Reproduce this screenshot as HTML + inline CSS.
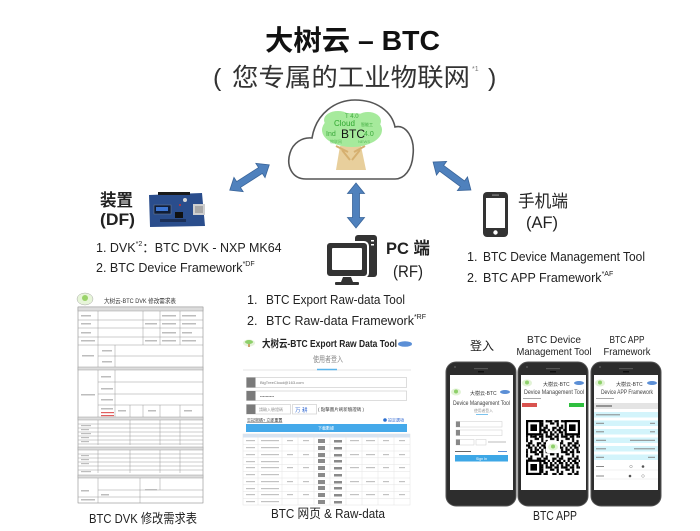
<!DOCTYPE html>
<html><head><meta charset="utf-8"><style>
html,body{margin:0;padding:0;background:#fff;}
svg{display:block;}
text{font-family:"Liberation Sans","Noto Sans CJK SC",sans-serif;}
</style></head><body>
<svg width="700" height="531" viewBox="0 0 700 531" xmlns="http://www.w3.org/2000/svg">
<defs>
<pattern id="qr" width="15.4" height="15.4" patternUnits="userSpaceOnUse">
<rect x="0" y="0" width="2.2" height="2.2" fill="#000"/><rect x="4.4" y="0" width="4.4" height="2.2" fill="#000"/><rect x="11" y="0" width="2.2" height="4.4" fill="#000"/>
<rect x="2.2" y="2.2" width="2.2" height="2.2" fill="#000"/><rect x="6.6" y="2.2" width="2.2" height="4.4" fill="#000"/><rect x="13.2" y="2.2" width="2.2" height="2.2" fill="#000"/>
<rect x="0" y="4.4" width="4.4" height="2.2" fill="#000"/><rect x="8.8" y="4.4" width="4.4" height="2.2" fill="#000"/>
<rect x="2.2" y="6.6" width="2.2" height="4.4" fill="#000"/><rect x="11" y="6.6" width="4.4" height="2.2" fill="#000"/><rect x="6.6" y="8.8" width="2.2" height="2.2" fill="#000"/>
<rect x="0" y="11" width="2.2" height="2.2" fill="#000"/><rect x="4.4" y="11" width="4.4" height="2.2" fill="#000"/><rect x="13.2" y="11" width="2.2" height="4.4" fill="#000"/>
<rect x="2.2" y="13.2" width="4.4" height="2.2" fill="#000"/><rect x="8.8" y="13.2" width="2.2" height="2.2" fill="#000"/>
</pattern>
</defs>
<rect width="700" height="531" fill="#fff"/>

<!-- Title -->
<text x="265" y="50" font-size="28" font-weight="bold" fill="#111" textLength="175" lengthAdjust="spacingAndGlyphs">大树云 – BTC</text>
<text x="213" y="86" font-size="25" fill="#333">(</text>
<text x="232" y="86" font-size="25" fill="#333" textLength="238" lengthAdjust="spacingAndGlyphs">您专属的工业物联网</text>
<text x="472" y="71" font-size="7" fill="#777">*1</text>
<text x="488" y="86" font-size="25" fill="#333">)</text>

<!-- Cloud -->
<path d="M306,179 C292,179 286,166 290,153 C293,143 302,137 312,138 C316,113 336,100 355,100 C377,100 392,112 395,127 C406,124 415,138 413,155 C412,170 404,179 395,179 Z" fill="#fff" stroke="#555" stroke-width="1.6"/>
<!-- tree -->
<path d="M340,146 L336,170 L366,170 L361,146 Z" fill="#e8cf9c"/>
<path d="M336,146 L348,152 M365,146 L354,152 M342,150 L350,160 M360,150 L352,160" stroke="#d6b070" stroke-width="2" fill="none"/>
<ellipse cx="352" cy="130" rx="30" ry="17" fill="#a6ea9c"/>
<ellipse cx="338" cy="120" rx="14" ry="9" fill="#a6ea9c"/>
<ellipse cx="368" cy="121" rx="13" ry="9" fill="#a6ea9c"/>
<text x="345" y="118" font-size="6" fill="#3aa83a">T 4.0</text>
<text x="334" y="126" font-size="8" fill="#2fa82f">Cloud</text>
<text x="361" y="126" font-size="4" fill="#3aa83a">智能工</text>
<text x="326" y="136" font-size="7" fill="#3aa83a">Ind</text>
<text x="364" y="136" font-size="7" fill="#3aa83a">4.0</text>
<text x="341" y="138" font-size="12" fill="#111">BTC</text>
<text x="330" y="143" font-size="4" fill="#5bbd5b">物联网</text>
<text x="358" y="143" font-size="4" fill="#5bbd5b">NEWS</text>

<!-- Arrows -->
<g transform="translate(249.5,177.5) rotate(-32.7)"><polygon points="-23.5,0 -13,-8.5 -13,-3.5 13,-3.5 13,-8.5 23.5,0 13,8.5 13,3.5 -13,3.5 -13,8.5" fill="#4f81bd" stroke="#3a659a" stroke-width="0.8"/></g>
<g transform="translate(356,205.5) rotate(90)"><polygon points="-22.5,0 -12,-8.5 -12,-3.5 12,-3.5 12,-8.5 22.5,0 12,8.5 12,3.5 -12,3.5 -12,8.5" fill="#4f81bd" stroke="#3a659a" stroke-width="0.8"/></g>
<g transform="translate(452,176) rotate(36.4)"><polygon points="-23.5,0 -13,-8.5 -13,-3.5 13,-3.5 13,-8.5 23.5,0 13,8.5 13,3.5 -13,3.5 -13,8.5" fill="#4f81bd" stroke="#3a659a" stroke-width="0.8"/></g>

<!-- Left: device -->
<text x="100" y="206" font-size="17" font-weight="bold" fill="#222" textLength="33" lengthAdjust="spacingAndGlyphs">装置</text>
<text x="100" y="225" font-size="17" font-weight="bold" fill="#222" textLength="35" lengthAdjust="spacingAndGlyphs">(DF)</text>
<!-- board -->
<g>
<polygon points="149,195 202,193 205,226 150,227" fill="#2a4d8c"/>
<rect x="158" y="192" width="32" height="3" fill="#1a1a1a"/>
<rect x="154" y="205" width="17" height="9" fill="#0f1d38" stroke="#6b7a90" stroke-width="0.6"/>
<rect x="156" y="207" width="12" height="4" fill="#3c74d0"/>
<rect x="193" y="204" width="12" height="11" fill="#cfcfcf"/>
<rect x="195" y="206" width="8" height="7" fill="#a8a8a8"/>
<circle cx="185" cy="200" r="2" fill="#d8d8d8"/>
<rect x="175" y="212" width="8" height="6" fill="#111"/>
<rect x="160" y="219" width="26" height="3" fill="#1b2f57"/>
<circle cx="180" cy="205" r="1" fill="#c33"/>
</g>
<text x="96" y="252" font-size="12.5" fill="#222">1. DVK<tspan font-size="7" dy="-6">*2</tspan><tspan dy="6">：BTC DVK - NXP MK64</tspan></text>
<text x="96" y="272" font-size="12.5" fill="#222">2. BTC Device Framework<tspan font-size="7" dy="-6">*DF</tspan></text>

<!-- PC -->
<rect x="355" y="235" width="22" height="42" rx="3" fill="#333"/>
<rect x="371" y="240" width="3" height="1.5" fill="#fff"/><rect x="371" y="244" width="3" height="1.5" fill="#fff"/>
<rect x="326" y="242" width="42" height="35" rx="4" fill="#333" stroke="#fff" stroke-width="2"/>
<rect x="332" y="248" width="30" height="22" rx="1" fill="#fff"/>
<polygon points="343,277 351,277 353,282 341,282" fill="#333"/>
<rect x="335" y="282" width="24" height="3" rx="1" fill="#333"/>
<text x="386" y="254" font-size="17" font-weight="bold" fill="#222" textLength="44" lengthAdjust="spacingAndGlyphs">PC 端</text>
<text x="393" y="277" font-size="17" fill="#222" textLength="30" lengthAdjust="spacingAndGlyphs">(RF)</text>
<text x="247" y="304" font-size="12.5" fill="#222">1.</text>
<text x="266" y="304" font-size="12.5" fill="#222" textLength="139" lengthAdjust="spacingAndGlyphs">BTC Export Raw-data Tool</text>
<text x="247" y="325" font-size="12.5" fill="#222">2.</text>
<text x="266" y="325" font-size="12.5" fill="#222">BTC Raw-data Framework<tspan font-size="7" dy="-6">*RF</tspan></text>

<!-- Phone (AF) -->
<rect x="483" y="192" width="25" height="45" rx="4" fill="#333"/>
<rect x="486" y="198" width="19" height="30" fill="#fff"/>
<rect x="492" y="194.5" width="7" height="1.2" fill="#888"/>
<circle cx="495.5" cy="232.5" r="2.2" fill="#fff"/>
<text x="518" y="207" font-size="17" fill="#222" textLength="50" lengthAdjust="spacingAndGlyphs">手机端</text>
<text x="526" y="228" font-size="17" fill="#222" textLength="32" lengthAdjust="spacingAndGlyphs">(AF)</text>
<text x="467" y="261" font-size="12.5" fill="#222">1.</text>
<text x="483" y="261" font-size="12.5" fill="#222" textLength="162" lengthAdjust="spacingAndGlyphs">BTC Device Management Tool</text>
<text x="467" y="282" font-size="12.5" fill="#222">2.</text>
<text x="483" y="282" font-size="12.5" fill="#222">BTC APP Framework<tspan font-size="7" dy="-6">*AF</tspan></text>

<!-- Form (bottom-left) -->
<g stroke="#9a9a9a" stroke-width="0.5" fill="none">
<ellipse cx="85" cy="299" rx="8" ry="6" fill="#e7f5d9" stroke="#aaa"/>
<rect x="78" y="307" width="125" height="196" fill="#fff" stroke="#777"/>
<rect x="78" y="307" width="125" height="4" fill="#dcdcdc"/>
<rect x="78" y="367" width="125" height="3" fill="#dcdcdc"/>
<rect x="78" y="417" width="125" height="3" fill="#dcdcdc"/>
<rect x="78" y="447" width="125" height="3" fill="#dcdcdc"/>
<rect x="78" y="475" width="125" height="3" fill="#dcdcdc"/>
<path d="M78,320H203M78,328H203M78,337H203M78,345H203M98,356H203M98,382H203M98,394H203M98,405H203M78,424H203M78,428H203M78,432H203M78,436H203M78,440H203M78,444H203M78,454H203M78,458H203M78,462H203M78,466H203M78,470H203M98,490H203M78,497H203"/>
<path d="M98,311V345M143,311V345M160,311V345M180,311V345M98,345V367M115,345V367M98,370V417M115,370V417M130,405V417M143,405V417M160,405V417M180,405V417M98,420V445M130,420V445M160,420V445M180,420V445M98,450V473M130,450V473M160,450V473M180,450V473M98,478V503M140,478V503M160,478V490"/>
</g>
<circle cx="85" cy="298" r="3" fill="#9ad36a"/>
<text x="104" y="303" font-size="6.5" fill="#333" font-family="Liberation Serif" textLength="72" lengthAdjust="spacingAndGlyphs">大树云-BTC DVK 修改需求表</text>
<g fill="#bdbdbd">
<rect x="81" y="315" width="10" height="1.5"/><rect x="81" y="323" width="10" height="1.5"/><rect x="81" y="332" width="10" height="1.5"/><rect x="81" y="340" width="14" height="1.5"/>
<rect x="145" y="323" width="12" height="1.5"/><rect x="145" y="340" width="12" height="1.5"/>
<rect x="162" y="315" width="14" height="1.5"/><rect x="162" y="323" width="14" height="1.5"/><rect x="162" y="332" width="14" height="1.5"/><rect x="162" y="340" width="14" height="1.5"/>
<rect x="182" y="315" width="14" height="1.5"/><rect x="182" y="323" width="14" height="1.5"/><rect x="182" y="332" width="10" height="1.5"/><rect x="182" y="340" width="14" height="1.5"/>
<rect x="82" y="355" width="12" height="1.5"/><rect x="102" y="350" width="10" height="1.5"/><rect x="102" y="361" width="10" height="1.5"/>
<rect x="81" y="394" width="14" height="1.5"/><rect x="101" y="376" width="10" height="1.5"/><rect x="101" y="388" width="12" height="1.5"/><rect x="101" y="399" width="12" height="1.5"/><rect x="101" y="408" width="12" height="1.5"/>
<rect x="118" y="410" width="8" height="1.5"/><rect x="148" y="410" width="8" height="1.5"/><rect x="184" y="410" width="8" height="1.5"/>
<rect x="81" y="425" width="10" height="1.2"/><rect x="81" y="429" width="8" height="1.2"/><rect x="81" y="433" width="10" height="1.2"/><rect x="81" y="437" width="8" height="1.2"/><rect x="81" y="441" width="8" height="1.2"/>
<rect x="81" y="455" width="8" height="1.2"/><rect x="81" y="459" width="8" height="1.2"/><rect x="81" y="463" width="8" height="1.2"/><rect x="81" y="471" width="10" height="1.2"/>
<rect x="81" y="490" width="8" height="1.5"/><rect x="81" y="499" width="14" height="1.5"/><rect x="145" y="489" width="12" height="1.5"/><rect x="101" y="494" width="8" height="1.5"/>
</g>
<rect x="101" y="412" width="13" height="1.2" fill="#e06060"/><rect x="101" y="415" width="13" height="1.2" fill="#e06060"/>
<text x="143" y="523" font-size="13" fill="#222" text-anchor="middle" textLength="108" lengthAdjust="spacingAndGlyphs">BTC DVK 修改需求表</text>

<!-- Web screenshot -->
<ellipse cx="249" cy="343" rx="6" ry="3.5" fill="#e5f2da"/><rect x="248" y="343" width="2" height="4" fill="#c9a36a"/><ellipse cx="249" cy="342" rx="4" ry="2" fill="#8ed06a"/>
<text x="262" y="347" font-size="10.5" font-weight="bold" fill="#222" textLength="135" lengthAdjust="spacingAndGlyphs">大树云-BTC Export Raw Data Tool</text>
<ellipse cx="405" cy="344" rx="7" ry="2.8" fill="#5b8fd6"/>
<text x="313" y="362" font-size="8" fill="#888" textLength="30" lengthAdjust="spacingAndGlyphs">使用者登入</text>
<line x1="243" y1="370" x2="411" y2="370" stroke="#e6e6e6" stroke-width="1"/>
<line x1="317" y1="369.5" x2="337" y2="369.5" stroke="#5ab4ea" stroke-width="1.5"/>
<rect x="246.5" y="377.5" width="160" height="10" fill="#fff" stroke="#cfcfcf" stroke-width="0.7"/>
<rect x="246.5" y="377.5" width="9" height="10" fill="#7a7a7a"/>
<text x="260" y="384" font-size="4" fill="#777">BigTreeCloud@163.com</text>
<rect x="246.5" y="391" width="160" height="9.5" fill="#fff" stroke="#cfcfcf" stroke-width="0.7"/>
<rect x="246.5" y="391" width="9" height="9.5" fill="#7a7a7a"/>
<text x="260" y="397.5" font-size="4" fill="#777">••••••••••</text>
<rect x="246.5" y="404.5" width="44" height="9.5" fill="#fff" stroke="#cfcfcf" stroke-width="0.7"/>
<rect x="246.5" y="404.5" width="9" height="9.5" fill="#7a7a7a"/>
<text x="259" y="411" font-size="4" fill="#999">請輸入驗證碼</text>
<rect x="292.5" y="404.5" width="24" height="9.5" fill="#fff" stroke="#cfcfcf" stroke-width="0.7"/>
<text x="295" y="412" font-size="5.5" fill="#3b6fd4">万 耕</text>
<text x="318" y="411" font-size="4.5" fill="#444">( 點擊圖片刷新驗證碼 )</text>
<text x="247" y="421.5" font-size="4" fill="#333" text-decoration="underline">忘記密碼? 立即重置</text>
<circle cx="385" cy="420" r="1.8" fill="#2b6fcf"/>
<text x="388" y="421.5" font-size="4" fill="#3b6fd4">設定選項</text>
<rect x="246" y="424" width="161" height="8" fill="#44a9ea"/>
<text x="326" y="429.5" font-size="4" fill="#fff" text-anchor="middle">下載數據</text>
<rect x="243" y="434" width="167" height="71" fill="#fff" stroke="#e0e0e0" stroke-width="0.5"/>
<rect x="243" y="434" width="167" height="3.5" fill="#d8e3f0"/>
<g stroke="#e3e3e3" stroke-width="0.5">
<path d="M243,444.3H410M243,451H410M243,457.8H410M243,464.5H410M243,471.3H410M243,478H410M243,484.8H410M243,491.5H410M243,498.3H410"/>
<path d="M258,434V505M282,434V505M298,434V505M314,434V505M330,434V505M346,434V505M362,434V505M378,434V505M394,434V505"/>
</g>
<g fill="#c2c2c2">
<rect x="246" y="440" width="9" height="1.2"/><rect x="246" y="447" width="9" height="1.2"/><rect x="246" y="454" width="9" height="1.2"/><rect x="246" y="461" width="9" height="1.2"/><rect x="246" y="467" width="9" height="1.2"/><rect x="246" y="474" width="9" height="1.2"/><rect x="246" y="481" width="9" height="1.2"/><rect x="246" y="488" width="9" height="1.2"/><rect x="246" y="494" width="9" height="1.2"/><rect x="246" y="501" width="9" height="1.2"/>
<rect x="261" y="440" width="18" height="1.2"/><rect x="261" y="447" width="18" height="1.2"/><rect x="261" y="454" width="18" height="1.2"/><rect x="261" y="461" width="18" height="1.2"/><rect x="261" y="467" width="18" height="1.2"/><rect x="261" y="474" width="18" height="1.2"/><rect x="261" y="481" width="18" height="1.2"/><rect x="261" y="488" width="18" height="1.2"/><rect x="261" y="494" width="18" height="1.2"/><rect x="261" y="501" width="18" height="1.2"/>
<rect x="287" y="440" width="6" height="1.2"/><rect x="287" y="454" width="6" height="1.2"/><rect x="287" y="467" width="6" height="1.2"/><rect x="287" y="481" width="6" height="1.2"/><rect x="287" y="494" width="6" height="1.2"/>
<rect x="303" y="440" width="6" height="1.2"/><rect x="303" y="454" width="6" height="1.2"/><rect x="303" y="467" width="6" height="1.2"/><rect x="303" y="481" width="6" height="1.2"/><rect x="303" y="494" width="6" height="1.2"/>
<rect x="366" y="440" width="9" height="1.2"/><rect x="366" y="454" width="9" height="1.2"/><rect x="366" y="467" width="9" height="1.2"/><rect x="366" y="481" width="9" height="1.2"/><rect x="366" y="494" width="9" height="1.2"/>
<rect x="350" y="440" width="9" height="1.2"/><rect x="350" y="454" width="9" height="1.2"/><rect x="350" y="467" width="9" height="1.2"/><rect x="350" y="481" width="9" height="1.2"/><rect x="350" y="494" width="9" height="1.2"/>
<rect x="383" y="440" width="6" height="1.2"/><rect x="383" y="454" width="6" height="1.2"/><rect x="383" y="467" width="6" height="1.2"/><rect x="383" y="481" width="6" height="1.2"/><rect x="383" y="494" width="6" height="1.2"/>
<rect x="399" y="440" width="6" height="1.2"/><rect x="399" y="454" width="6" height="1.2"/><rect x="399" y="467" width="6" height="1.2"/><rect x="399" y="481" width="6" height="1.2"/><rect x="399" y="494" width="6" height="1.2"/>
</g>
<g fill="#8a8a8a">
<rect x="318" y="439" width="7" height="4"/><rect x="318" y="446" width="7" height="4"/><rect x="318" y="453" width="7" height="4"/><rect x="318" y="459" width="7" height="4"/><rect x="318" y="466" width="7" height="4"/><rect x="318" y="473" width="7" height="4"/><rect x="318" y="480" width="7" height="4"/><rect x="318" y="486" width="7" height="4"/><rect x="318" y="493" width="7" height="4"/><rect x="318" y="500" width="7" height="4"/>
<rect x="334" y="440" width="8" height="2.5"/><rect x="334" y="447" width="8" height="2.5"/><rect x="334" y="454" width="8" height="2.5"/><rect x="334" y="460" width="8" height="2.5"/><rect x="334" y="467" width="8" height="2.5"/><rect x="334" y="474" width="8" height="2.5"/><rect x="334" y="481" width="8" height="2.5"/><rect x="334" y="487" width="8" height="2.5"/><rect x="334" y="494" width="8" height="2.5"/><rect x="334" y="501" width="8" height="2.5"/>
</g>
<text x="328" y="518" font-size="13" fill="#222" text-anchor="middle" textLength="114" lengthAdjust="spacingAndGlyphs">BTC 网页 &amp; Raw-data</text>

<!-- Phone labels -->
<text x="482" y="350" font-size="12" fill="#222" text-anchor="middle">登入</text>
<text x="554" y="343" font-size="10.5" fill="#222" text-anchor="middle" textLength="54" lengthAdjust="spacingAndGlyphs">BTC Device</text>
<text x="554" y="355" font-size="10.5" fill="#222" text-anchor="middle" textLength="75" lengthAdjust="spacingAndGlyphs">Management Tool</text>
<text x="627" y="343" font-size="10.5" fill="#222" text-anchor="middle" textLength="35" lengthAdjust="spacingAndGlyphs">BTC APP</text>
<text x="627" y="355" font-size="10.5" fill="#222" text-anchor="middle" textLength="47" lengthAdjust="spacingAndGlyphs">Framework</text>

<!-- Phone bodies -->
<g>
<rect x="446" y="362" width="70" height="144" rx="10" fill="#2d2d2d" stroke="#555" stroke-width="1"/>
<rect x="518" y="362" width="70" height="144" rx="10" fill="#2d2d2d" stroke="#555" stroke-width="1"/>
<rect x="591" y="362" width="70" height="144" rx="10" fill="#2d2d2d" stroke="#555" stroke-width="1"/>
<rect x="474" y="368" width="14" height="1.2" fill="#555"/><rect x="478" y="371" width="6" height="1.5" fill="#111"/><circle cx="455" cy="367" r="1" fill="#555"/>
<rect x="546" y="368" width="14" height="1.2" fill="#555"/><rect x="550" y="371" width="6" height="1.5" fill="#111"/><circle cx="527" cy="367" r="1" fill="#555"/>
<rect x="619" y="368" width="14" height="1.2" fill="#555"/><rect x="623" y="371" width="6" height="1.5" fill="#111"/><circle cx="600" cy="367" r="1" fill="#555"/>
<rect x="450" y="375" width="63" height="115" fill="#fff"/>
<rect x="521" y="375" width="65" height="115" fill="#fff"/>
<rect x="594" y="375" width="64" height="115" fill="#fff"/>
</g>

<!-- Phone 1 content -->
<ellipse cx="456" cy="392" rx="5" ry="3.5" fill="#e2f3d6"/><circle cx="456" cy="391.5" r="2" fill="#8ed06a"/>
<text x="470" y="395" font-size="5" fill="#333">大樹云-BTC</text>
<ellipse cx="505" cy="392" rx="5" ry="2" fill="#5b8fd6"/>
<text x="453" y="405" font-size="6" fill="#444" textLength="57" lengthAdjust="spacingAndGlyphs">Device Management Tool</text>
<text x="474" y="412" font-size="3.8" fill="#999">使用者登入</text>
<line x1="476" y1="414.5" x2="488" y2="414.5" stroke="#5ab4ea" stroke-width="0.8"/>
<rect x="456" y="421.5" width="46" height="5.5" fill="#fff" stroke="#ccc" stroke-width="0.5"/><rect x="456" y="421.5" width="4" height="5.5" fill="#888"/>
<rect x="456" y="430" width="46" height="5.5" fill="#fff" stroke="#ccc" stroke-width="0.5"/><rect x="456" y="430" width="4" height="5.5" fill="#888"/>
<rect x="456" y="439.5" width="18" height="5.5" fill="#fff" stroke="#ccc" stroke-width="0.5"/><rect x="456" y="439.5" width="4" height="5.5" fill="#888"/>
<rect x="476" y="439.5" width="10" height="5.5" fill="#fff" stroke="#ccc" stroke-width="0.5"/>
<rect x="488" y="441.5" width="18" height="1" fill="#bbb"/>
<rect x="455" y="451" width="16" height="1" fill="#666"/><rect x="498" y="451" width="9" height="1" fill="#5b8fd6"/>
<rect x="455" y="455" width="53" height="6.5" fill="#3da7e6"/>
<text x="481.5" y="459.8" font-size="3.5" fill="#fff" text-anchor="middle">Sign In</text>

<!-- Phone 2 content -->
<ellipse cx="527" cy="383" rx="5" ry="3.5" fill="#e2f3d6"/><circle cx="527" cy="382.5" r="2" fill="#8ed06a"/>
<text x="543" y="386" font-size="5" fill="#333">大樹云-BTC</text>
<ellipse cx="579" cy="383" rx="5" ry="2" fill="#5b8fd6"/>
<text x="524" y="394" font-size="6" fill="#444" textLength="60" lengthAdjust="spacingAndGlyphs">Device Management Tool</text>
<rect x="523" y="398" width="18" height="1" fill="#aaa"/>
<rect x="522" y="403" width="15" height="4" fill="#d9534f"/>
<rect x="569" y="403" width="15" height="4" fill="#2fbf3f"/>
<rect x="526" y="420" width="54" height="55" fill="url(#qr)"/>
<g>
<rect x="526" y="420" width="15.4" height="15.4" fill="#000"/><rect x="528.2" y="422.2" width="11" height="11" fill="#fff"/><rect x="530.4" y="424.4" width="6.6" height="6.6" fill="#000"/>
<rect x="564.6" y="420" width="15.4" height="15.4" fill="#000"/><rect x="566.8" y="422.2" width="11" height="11" fill="#fff"/><rect x="569" y="424.4" width="6.6" height="6.6" fill="#000"/>
<rect x="526" y="459.6" width="15.4" height="15.4" fill="#000"/><rect x="528.2" y="461.8" width="11" height="11" fill="#fff"/><rect x="530.4" y="464" width="6.6" height="6.6" fill="#000"/>
<rect x="546" y="441" width="14" height="12" rx="2" fill="#fff"/>
<ellipse cx="553" cy="447" rx="5" ry="3.5" fill="#e2f3d6"/><circle cx="553" cy="446.5" r="2" fill="#8ed06a"/>
</g>

<!-- Phone 3 content -->
<ellipse cx="600" cy="383" rx="5" ry="3.5" fill="#e2f3d6"/><circle cx="600" cy="382.5" r="2" fill="#8ed06a"/>
<text x="616" y="386" font-size="5" fill="#333">大樹云-BTC</text>
<ellipse cx="652" cy="383" rx="5" ry="2" fill="#5b8fd6"/>
<text x="601" y="394" font-size="6" fill="#444" textLength="52" lengthAdjust="spacingAndGlyphs">Device APP Framework</text>
<rect x="596" y="398" width="18" height="1" fill="#aaa"/>
<rect x="594" y="403" width="64" height="6" fill="#e4e4e4"/>
<rect x="596" y="405.5" width="16" height="1" fill="#444"/>
<g fill="#d3f4fb">
<rect x="594" y="412" width="64" height="5.5"/><rect x="594" y="420.5" width="64" height="5.5"/><rect x="594" y="429" width="64" height="5.5"/><rect x="594" y="437.5" width="64" height="5.5"/><rect x="594" y="446" width="64" height="5.5"/><rect x="594" y="454.5" width="64" height="5.5"/>
</g>
<g fill="#888">
<rect x="596" y="414.3" width="24" height="1"/><rect x="596" y="422.8" width="8" height="1"/><rect x="650" y="422.8" width="5" height="1"/>
<rect x="596" y="431.3" width="8" height="1"/><rect x="650" y="431.3" width="5" height="1"/>
<rect x="596" y="439.8" width="10" height="1"/><rect x="630" y="439.8" width="25" height="1"/>
<rect x="596" y="448.3" width="10" height="1"/><rect x="634" y="448.3" width="21" height="1"/>
<rect x="596" y="456.8" width="8" height="1"/><rect x="648" y="456.8" width="7" height="1"/>
<rect x="596" y="466" width="8" height="1"/><rect x="596" y="475.5" width="8" height="1"/>
</g>
<line x1="594" y1="470" x2="658" y2="470" stroke="#e3e3e3" stroke-width="0.5"/>
<line x1="594" y1="479" x2="658" y2="479" stroke="#e3e3e3" stroke-width="0.5"/>
<circle cx="631" cy="466.5" r="1.3" fill="none" stroke="#777" stroke-width="0.4"/><circle cx="643" cy="466.5" r="1.3" fill="#555"/>
<circle cx="630" cy="476" r="1.3" fill="#555"/><circle cx="643" cy="476" r="1.3" fill="none" stroke="#777" stroke-width="0.4"/>
<text x="555" y="520" font-size="13" fill="#222" text-anchor="middle" textLength="44" lengthAdjust="spacingAndGlyphs">BTC APP</text>
</svg>
</body></html>
